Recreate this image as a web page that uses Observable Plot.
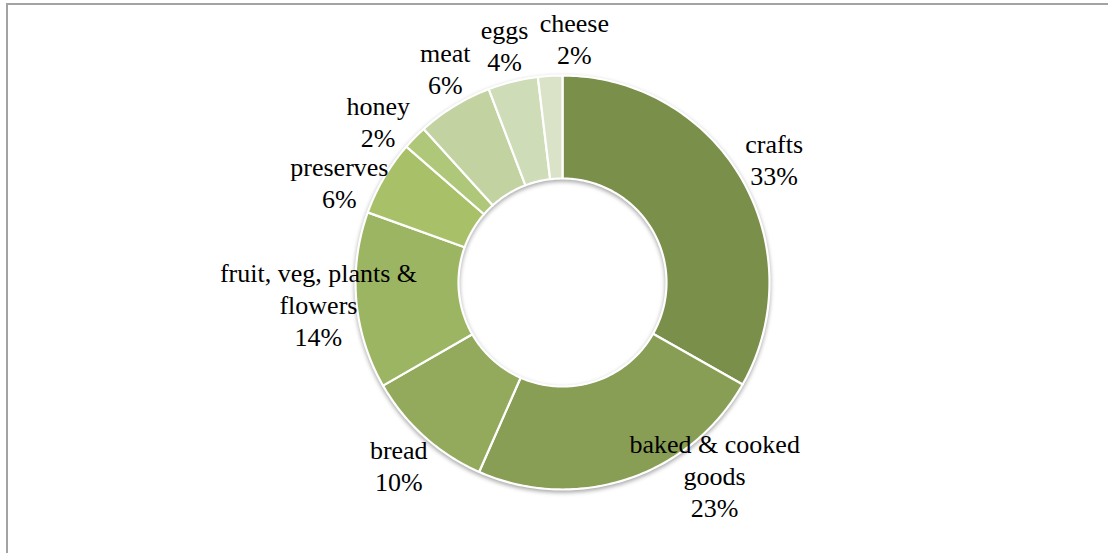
<!DOCTYPE html>
<html>
<head>
<meta charset="utf-8">
<script src="https://cdn.jsdelivr.net/npm/d3@7"></script>
<script src="https://cdn.jsdelivr.net/npm/@observablehq/plot@0.6"></script>
<style>
  html, body { margin: 0; padding: 0; background: #fff; }
  #wrap { position: relative; width: 1108px; height: 553px; overflow: hidden; }
  #frame { position: absolute; left: 6px; top: 3px; width: 1120px; height: 570px;
           border-left: 2px solid #a3a3a3; border-top: 2px solid #a3a3a3; }
  #chart { position: absolute; left: 0; top: 0; }
</style>
</head>
<body>
<div id="wrap"><div id="frame"></div><div id="chart"></div></div>
<script>
// ---- data, clockwise from 12 o'clock ----
const categories = ["crafts", "baked & cooked goods", "bread", "fruit, veg, plants & flowers",
                    "preserves", "honey", "meat", "eggs", "cheese"];
const shares = [33.2, 23.4, 10.1, 13.8, 5.9, 1.9, 5.9, 3.9, 1.9];
const colors = ["#7a8f4a", "#899e55", "#93aa5c", "#9cb563", "#a8c169", "#afc778",
                "#c2d2a0", "#cfdcb8", "#dae3c8"];

// ---- layout ----
const W = 1108, H = 553;
const cx = 562, cy = 282, rOut = 207, rIn = 104;
const fontSize = 26, lineH = 32, wrapPx = 215, labelR = 245, bottomLimit = 522;
const font = `${fontSize}px "Liberation Serif", "Times New Roman", serif`;

const total = d3.sum(shares);
const ctx = document.createElement("canvas").getContext("2d");
ctx.font = font;
function wrap(text) {
  const words = text.split(" "); const lines = []; let cur = "";
  for (const w of words) {
    const t = cur ? cur + " " + w : w;
    if (cur && ctx.measureText(t).width > wrapPx) { lines.push(cur); cur = w; } else cur = t;
  }
  lines.push(cur); return lines;
}

// ring polygons + label seeds
const points = [];
const labels = [];
let acc = 0;
categories.forEach((cat, i) => {
  const a0 = acc / total * 2 * Math.PI;
  acc += shares[i];
  const a1 = acc / total * 2 * Math.PI;
  const n = Math.max(2, Math.ceil((a1 - a0) * 180 / Math.PI));
  for (let k = 0; k <= n; k++) {
    const a = a0 + (a1 - a0) * k / n;
    points.push({cat, x: cx + rOut * Math.sin(a), y: cy - rOut * Math.cos(a)});
  }
  for (let k = n; k >= 0; k--) {
    const a = a0 + (a1 - a0) * k / n;
    points.push({cat, x: cx + rIn * Math.sin(a), y: cy - rIn * Math.cos(a)});
  }
  const lines = wrap(cat);
  lines.push(Math.round(shares[i] / total * 100) + "%");
  const w = d3.max(lines, l => ctx.measureText(l).width);
  labels.push({cat, lines, text: lines.join("\n"), w, h: lines.length * lineH, a: (a0 + a1) / 2});
});

function place(L) {
  let lx = cx + labelR * Math.sin(L.a), ly = cy - labelR * Math.cos(L.a);
  if (ly + L.h / 2 > bottomLimit) {
    ly = bottomLimit - L.h / 2;
    const dy = ly - cy;
    lx = cx + Math.sign(Math.sin(L.a)) * Math.sqrt(Math.max(0, labelR * labelR - dy * dy));
  }
  L.x = lx; L.y = ly;
}
function overlap(A, B) {
  return Math.abs(A.x - B.x) < (A.w + B.w) / 2 + 10 && Math.abs(A.y - B.y) < (A.h + B.h) / 2 - 4;
}
// simple label relaxation: spread neighbouring labels apart along the ring
for (let it = 0; it < 600; it++) {
  labels.forEach(place);
  let moved = false;
  for (let i = 0; i < labels.length; i++) {
    const A = labels[i], B = labels[(i + 1) % labels.length];
    if (overlap(A, B)) { A.a -= 0.003; B.a += 0.003; moved = true; }
  }
  if (!moved) break;
}
labels.forEach(place);

const chart = Plot.plot({
  width: W, height: H,
  margin: 0,
  x: {domain: [0, W], range: [0, W], axis: null},
  y: {domain: [0, H], range: [0, H], axis: null},
  color: {type: "ordinal", domain: categories, range: colors},
  style: {background: "transparent"},
  marks: [
    Plot.line(points, {x: "x", y: "y", z: "cat", fill: "cat", stroke: "white",
                       strokeWidth: 2.2, curve: "linear-closed", strokeLinejoin: "round"}),
    Plot.text(labels, {x: "x", y: "y", text: "text", textAnchor: "middle", lineAnchor: "middle",
                       lineHeight: lineH / fontSize, fontSize, fill: "black",
                       fontFamily: '"Liberation Serif", "Times New Roman", serif'})
  ]
});
const lineG = chart.querySelector('g[aria-label="line"]');
if (lineG) lineG.style.filter = "drop-shadow(0px 2px 2px rgba(0,0,0,0.35))";
document.getElementById("chart").appendChild(chart);
</script>
</body>
</html>
